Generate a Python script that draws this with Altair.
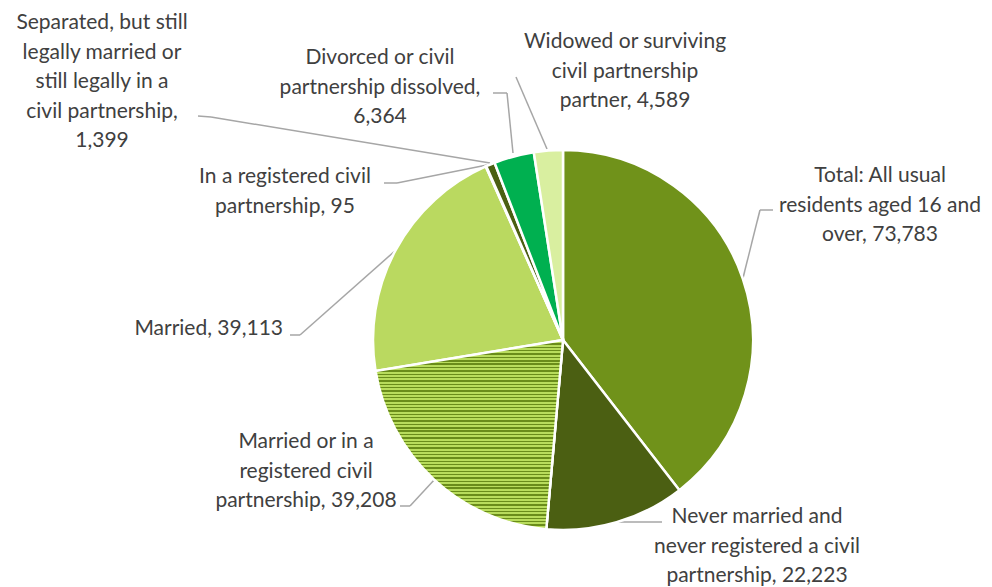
import altair as alt
import pandas as pd

# ---- data ----
categories = [
    "Total: All usual residents aged 16 and over",
    "Never married and never registered a civil partnership",
    "Married or in a registered civil partnership",
    "Married",
    "In a registered civil partnership",
    "Separated, but still legally married or still legally in a civil partnership",
    "Divorced or civil partnership dissolved",
    "Widowed or surviving civil partnership partner",
]
values = [73783, 22223, 39208, 39113, 95, 1399, 6364, 4589]

label_lines = [
    ["Total: All usual", "residents aged 16 and", "over, 73,783"],
    ["Never married and", "never registered a civil", "partnership, 22,223"],
    ["Married or in a", "registered civil", "partnership, 39,208"],
    ["Married, 39,113"],
    ["In a registered civil", "partnership, 95"],
    ["Separated, but still", "legally married or", "still legally in a", "civil partnership,", "1,399"],
    ["Divorced or civil", "partnership dissolved,", "6,364"],
    ["Widowed or surviving", "civil partnership", "partner, 4,589"],
]

# ---- styling / layout (page pixel coordinates) ----
colors = ["#70921a", "#4b5f12", "#9cc43c", "#bad960", "#a9d04a", "#4b5f12", "#00b050", "#d9efa0"]
label_x = [880, 757, 306, 283, 285, 102, 380, 625]
label_y = [182, 523, 448, 335, 183, 29, 64, 48]
label_align = ["center", "center", "center", "right", "center", "center", "center", "center"]

leaders = [  # polylines per label
    [(773, 210), (760, 210), (743, 278)],
    [(662, 522), (617, 522)],
    [(400, 506), (410, 506), (435, 479)],
    [(290, 335), (300, 335), (396, 250)],
    [(384, 183), (397, 183), (487, 165)],
    [(198, 116), (211, 117), (490, 163)],
    [(493, 93), (507, 93), (513, 153)],
    [(516, 77), (547, 149)],
]

CX, CY, R = 563, 340, 190
W, HGT = 976, 579

df = pd.DataFrame({"name": categories, "value": values, "idx": list(range(len(values)))})

seg_rows = []
for pts in leaders:
    for (a, b) in zip(pts[:-1], pts[1:]):
        seg_rows.append({"x": a[0], "y": a[1], "x2": b[0], "y2": b[1]})
segs = pd.DataFrame(seg_rows)

labels = pd.DataFrame({"lines": label_lines, "x": label_x, "y": label_y, "align": label_align})

xs = alt.Scale(domain=[8, 8 + W], range=[0, W], nice=False, zero=False)
ys = alt.Scale(domain=[8, 8 + HGT], range=[0, HGT], nice=False, zero=False)

# striped gradient for "Married or in a registered civil partnership"
H = 192.0
period = 3.4
dark_frac = 0.42
stops = []
pos = 0.0
while pos < H:
    a = pos / H
    b = min((pos + period * dark_frac) / H, 1.0)
    c = min((pos + period) / H, 1.0)
    stops += [
        {"offset": a, "color": "#6a8c1a"},
        {"offset": b, "color": "#6a8c1a"},
        {"offset": b, "color": "#b8dc5c"},
        {"offset": c, "color": "#b8dc5c"},
    ]
    pos += period
gradient = {"gradient": "linear", "x1": 0, "y1": 0, "x2": 0, "y2": 1, "stops": stops}

base = (
    alt.Chart(df)
    .transform_window(cum="sum(value)", sort=[alt.SortField("idx")], frame=[None, 0])
    .transform_joinaggregate(total="sum(value)")
    .transform_calculate(
        start="(datum.cum - datum.value) / datum.total",
        end="datum.cum / datum.total",
    )
)

theta = alt.Theta("start:Q", scale=alt.Scale(domain=[0, 1]))
arcs = base.mark_arc(radius=R, stroke="white", strokeWidth=2.5).encode(
    theta=theta,
    theta2="end:Q",
    color=alt.Color("name:N", scale=alt.Scale(domain=categories, range=colors), legend=None),
    x=alt.value(CX - 8),
    y=alt.value(CY - 8),
)
stripes = (
    base.transform_filter(alt.datum.idx == 2)
    .mark_arc(radius=R, stroke="white", strokeWidth=2.5, fill=gradient)
    .encode(theta=theta, theta2="end:Q", x=alt.value(CX - 8), y=alt.value(CY - 8))
)

rules = alt.Chart(segs).mark_rule(color="#a6a6a6", strokeWidth=1.5).encode(
    x=alt.X("x:Q", scale=xs, axis=None),
    y=alt.Y("y:Q", scale=ys, axis=None),
    x2="x2:Q",
    y2="y2:Q",
)

def text_layer(align):
    return (
        alt.Chart(labels)
        .transform_filter(alt.datum.align == align)
        .mark_text(font="Lato", fontSize=21, color="#404040", lineHeight=29.5,
                   baseline="alphabetic", align=align)
        .encode(
            x=alt.X("x:Q", scale=xs, axis=None),
            y=alt.Y("y:Q", scale=ys, axis=None),
            text="lines",
        )
    )

chart = (
    alt.layer(rules, arcs, stripes, text_layer("center"), text_layer("right"))
    .properties(width=W, height=HGT, autosize="none", padding=0)
    .configure_view(stroke=None)
)

chart.save("out.html", embed_options={"renderer": "svg", "actions": False})
